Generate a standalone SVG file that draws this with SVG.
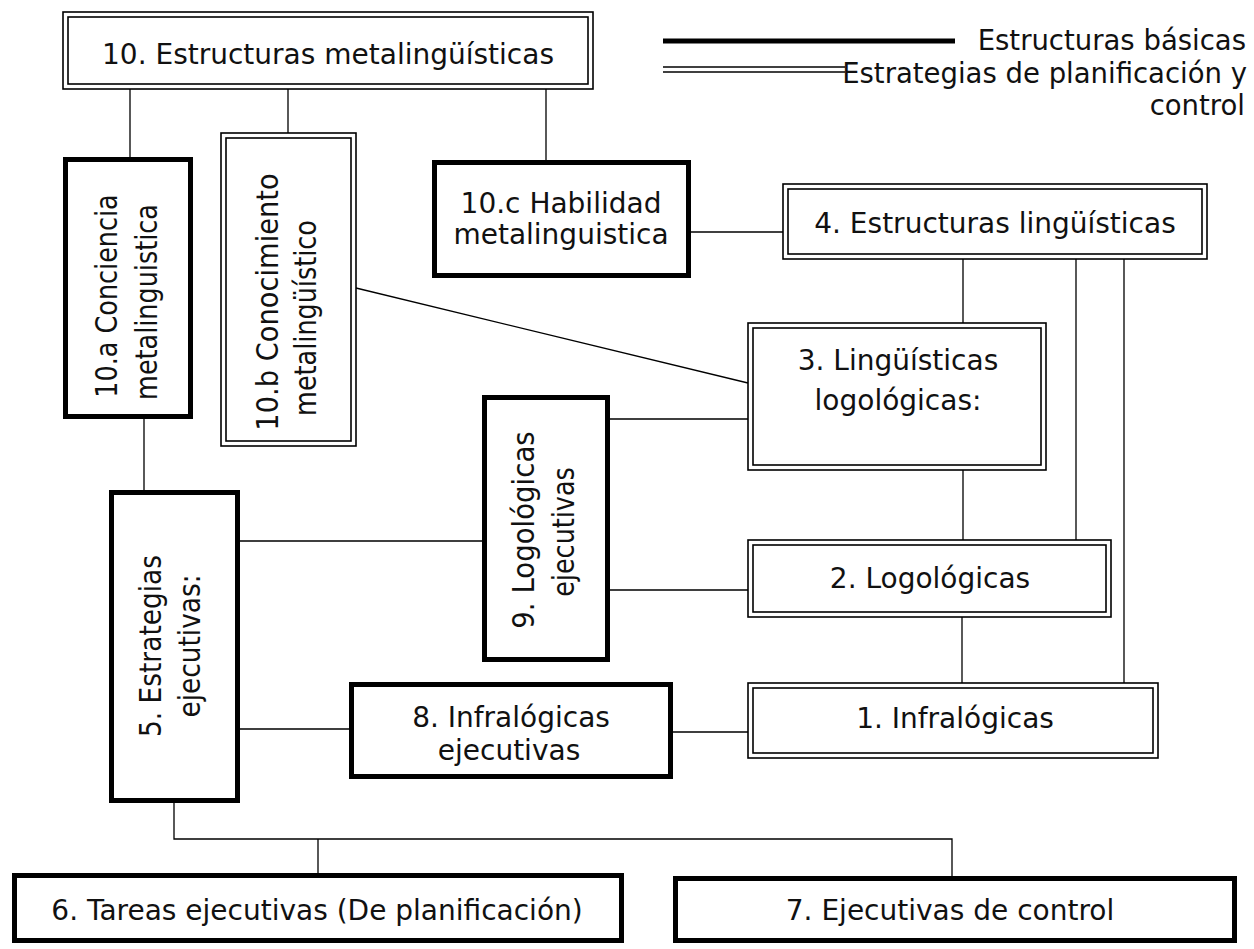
<svg xmlns="http://www.w3.org/2000/svg" width="1254" height="949" viewBox="0 0 1254 949">
<style>
.thick{fill:#fff;stroke:#000;stroke-width:5}
.outer{fill:#fff;stroke:#000;stroke-width:1.6}
.inner{fill:none;stroke:#000;stroke-width:1.6}
.conn{fill:none;stroke:#000;stroke-width:1.3}
text{font-family:"DejaVu Sans",Verdana,sans-serif;font-size:28px;fill:#111}
.v{font-size:30px;text-anchor:middle}
.c{text-anchor:middle}
.e{text-anchor:end;font-size:27.5px}
</style>
<rect width="1254" height="949" fill="#fff"/>
<g id="connectors">
<path class="conn" d="M130 89V157M288 89V133M546 89V160"/>
<path class="conn" d="M691 232H783"/>
<path class="conn" d="M963 259V323M1076 259V540M1124 259V683"/>
<path class="conn" d="M356 288L748 383"/>
<path class="conn" d="M610 419H748M963 470V540M610 590H748"/>
<path class="conn" d="M240 541H482M144 419V490"/>
<path class="conn" d="M962 617V683"/>
<path class="conn" d="M240 729H349M673 732H748"/>
<path class="conn" d="M174 803V839H952V876M318 839V873"/>
</g>
<g id="legend">
<line x1="663" y1="41" x2="955" y2="41" stroke="#000" stroke-width="5"/>
<line x1="663" y1="67" x2="845" y2="67" stroke="#000" stroke-width="1.6"/>
<line x1="663" y1="72" x2="845" y2="72" stroke="#000" stroke-width="1.6"/>
<text class="e" x="1246" y="50">Estructuras básicas</text>
<text class="e" x="1247" y="83">Estrategias de planificación y</text>
<text class="e" x="1245" y="115">control</text>
</g>
<g id="n10">
<rect class="outer" x="63" y="12" width="530" height="77"/>
<rect class="inner" x="68" y="17" width="520" height="67"/>
<text class="c" x="328" y="64">10. Estructuras metalingüísticas</text>
</g>
<g id="n10a">
<rect class="thick" x="65.5" y="159.5" width="125" height="257"/>
<text class="v" transform="translate(117,296) rotate(-90) scale(0.85,1)">10.a Conciencia</text>
<text class="v" transform="translate(157,302) rotate(-90) scale(0.85,1)">metalinguistica</text>
</g>
<g id="n10b">
<rect class="outer" x="221" y="133" width="135" height="313"/>
<rect class="inner" x="226" y="138" width="125" height="303"/>
<text class="v" transform="translate(278,302) rotate(-90) scale(0.91,1)">10.b Conocimiento</text>
<text class="v" transform="translate(316,318) rotate(-90) scale(0.85,1)">metalingüístico</text>
</g>
<g id="n10c">
<rect class="thick" x="434.5" y="162.5" width="254" height="113"/>
<text class="c" x="561" y="213">10.c Habilidad</text>
<text class="c" x="561" y="244">metalinguistica</text>
</g>
<g id="n4">
<rect class="outer" x="783" y="184" width="424" height="75"/>
<rect class="inner" x="788" y="189" width="414" height="65"/>
<text class="c" x="995" y="233">4. Estructuras lingüísticas</text>
</g>
<g id="n3">
<rect class="outer" x="748" y="323" width="298" height="147"/>
<rect class="inner" x="753" y="328" width="288" height="137"/>
<text class="c" x="898" y="370">3. Lingüísticas</text>
<text class="c" x="898" y="410">logológicas:</text>
</g>
<g id="n9">
<rect class="thick" x="484.5" y="397.5" width="123" height="262"/>
<text class="v" transform="translate(534,530) rotate(-90) scale(0.92,1)">9. Logológicas</text>
<text class="v" transform="translate(574,532) rotate(-90) scale(0.85,1)">ejecutivas</text>
</g>
<g id="n5">
<rect class="thick" x="111.5" y="492.5" width="126" height="308"/>
<text class="v" transform="translate(161,646) rotate(-90) scale(0.88,1)">5. Estrategias</text>
<text class="v" transform="translate(200,646) rotate(-90) scale(0.88,1)">ejecutivas:</text>
</g>
<g id="n2">
<rect class="outer" x="748" y="540" width="363" height="77"/>
<rect class="inner" x="753" y="545" width="353" height="67"/>
<text class="c" x="930" y="588">2. Logológicas</text>
</g>
<g id="n1">
<rect class="outer" x="748" y="683" width="410" height="75"/>
<rect class="inner" x="753" y="688" width="400" height="65"/>
<text class="c" x="955" y="728">1. Infralógicas</text>
</g>
<g id="n8">
<rect class="thick" x="351.5" y="684.5" width="319" height="92"/>
<text class="c" x="511" y="727">8. Infralógicas</text>
<text class="c" x="509" y="760">ejecutivas</text>
</g>
<g id="n6">
<rect class="thick" x="14.5" y="875.5" width="607" height="65"/>
<text class="c" x="317" y="920">6. Tareas ejecutivas (De planificación)</text>
</g>
<g id="n7">
<rect class="thick" x="675.5" y="878.5" width="559" height="62"/>
<text class="c" x="950" y="920">7. Ejecutivas de control</text>
</g>
</svg>
